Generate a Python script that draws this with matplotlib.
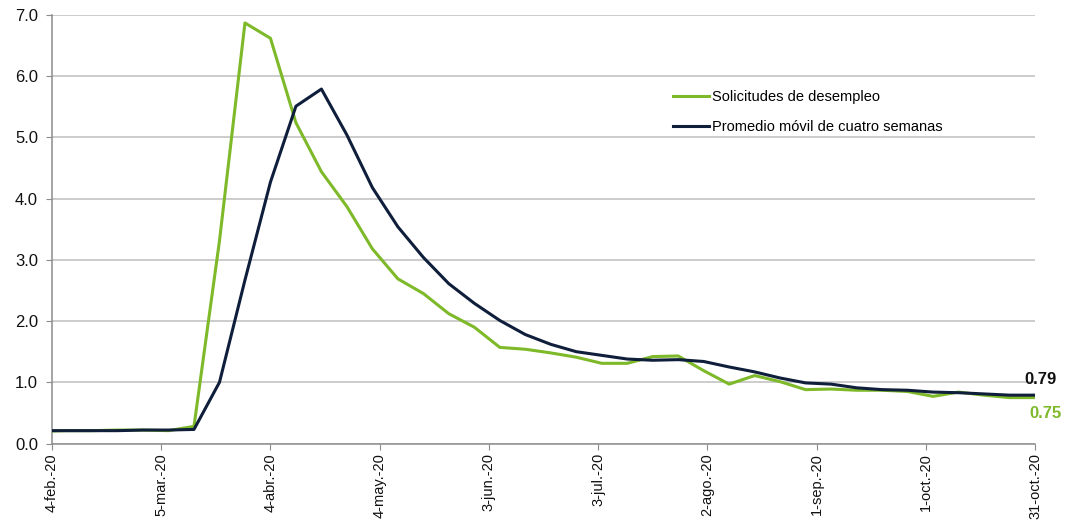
import datetime as dt
import matplotlib
matplotlib.use("Agg")
import matplotlib.pyplot as plt

plt.rcParams['font.family'] = ['Liberation Sans Narrow', 'Liberation Sans', 'DejaVu Sans']

# weeks ending on Saturday, 2020
week_start = dt.date(2020, 2, 1)
weeks = [week_start + dt.timedelta(days=7 * i) for i in range(40)]

# initial jobless claims, millions
claims = [0.20, 0.21, 0.21, 0.22, 0.22, 0.21, 0.28, 3.31, 6.87, 6.62,
          5.24, 4.44, 3.87, 3.18, 2.69, 2.45, 2.12, 1.90, 1.57, 1.54,
          1.48, 1.41, 1.31, 1.31, 1.42, 1.43, 1.19, 0.97, 1.11, 1.01,
          0.88, 0.89, 0.87, 0.87, 0.85, 0.77, 0.84, 0.79, 0.75, 0.75]

# four-week moving average, millions
avg4 = [0.21, 0.21, 0.21, 0.21, 0.22, 0.22, 0.23, 1.00, 2.67, 4.27,
        5.51, 5.79, 5.04, 4.18, 3.54, 3.04, 2.61, 2.29, 2.01, 1.78,
        1.62, 1.50, 1.44, 1.38, 1.36, 1.37, 1.34, 1.25, 1.17, 1.07,
        0.99, 0.97, 0.91, 0.88, 0.87, 0.84, 0.83, 0.81, 0.79, 0.79]

tick_dates = [dt.date(2020, 2, 4) + dt.timedelta(days=30 * i) for i in range(10)]
tick_labels = ['4-feb.-20', '5-mar.-20', '4-abr.-20', '4-may.-20', '3-jun.-20',
               '3-jul.-20', '2-ago.-20', '1-sep.-20', '1-oct.-20', '31-oct.-20']

green = '#7DB928'
navy = '#0F1E3A'

fig = plt.figure(figsize=(10.72, 5.24), dpi=100)
ax = fig.add_axes([0.0485, 0.1536, 0.917, 0.8178])

ax.plot(weeks, claims, color=green, lw=2.2, label='Solicitudes de desempleo', zorder=3)
ax.plot(weeks, avg4, color=navy, lw=2.2, label='Promedio móvil de cuatro semanas', zorder=4)

ax.set_xlim(dt.date(2020, 2, 4), dt.date(2020, 10, 31) + dt.timedelta(hours=12))
ax.set_ylim(0, 7)
ax.set_yticks(range(8))
ax.set_yticklabels([f'{v:.1f}' for v in range(8)])
ax.set_xticks(tick_dates)
ax.set_xticklabels(tick_labels, rotation=90)
ax.grid(axis='y', color='#BEBEBE', lw=1.1)
ax.set_axisbelow(True)

for s in ['top', 'right']:
    ax.spines[s].set_visible(False)
for s in ['left', 'bottom']:
    ax.spines[s].set_color('#8C8C8C')
    ax.spines[s].set_linewidth(1.1)
ax.tick_params(axis='both', colors='#8C8C8C', labelcolor='#111111', length=4)
ax.tick_params(axis='y', labelsize=12, pad=6)
ax.tick_params(axis='x', labelsize=10.5, pad=3)

ax.annotate(f'{avg4[-1]:.2f}', xy=(weeks[-1], avg4[-1]), xytext=(-8, 6),
            textcoords='offset points', ha='left', va='bottom',
            fontsize=12, fontweight='bold', color='#111111', annotation_clip=False)
ax.annotate(f'{claims[-1]:.2f}', xy=(weeks[-1], claims[-1]), xytext=(-4, -6),
            textcoords='offset points', ha='left', va='top',
            fontsize=12, fontweight='bold', color=green, annotation_clip=False)

ax.legend(loc='upper left', bbox_to_anchor=(0.618, 0.855), frameon=False,
          fontsize=10.5, handlelength=2.5, handletextpad=0.2, labelspacing=1.1)

fig.savefig('out.png', dpi=100)
